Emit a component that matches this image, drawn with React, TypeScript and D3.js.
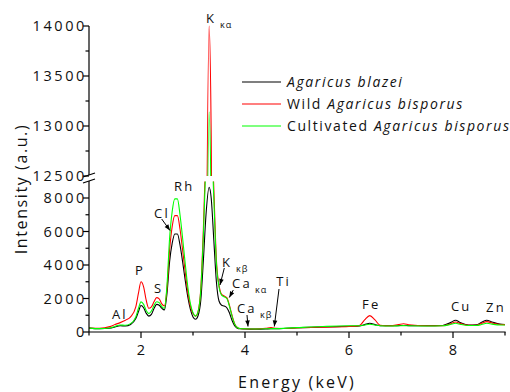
import React from "react";
import * as d3 from "d3";

// Energy grid (keV)
const energy = [
  1.0, 1.2, 1.4, 1.5, 1.6, 1.7, 1.8, 1.9, 1.95, 2.0,
  2.05, 2.1, 2.15, 2.2, 2.25, 2.3, 2.35, 2.4, 2.45, 2.5,
  2.55, 2.6, 2.65, 2.7, 2.75, 2.8, 2.85, 2.9, 2.95, 3.0,
  3.05, 3.1, 3.15, 3.2, 3.25, 3.31, 3.35, 3.4, 3.45, 3.5,
  3.55, 3.6, 3.65, 3.7, 3.75, 3.8, 3.85, 3.9, 4.0, 4.2,
  4.4, 4.5, 4.6, 4.8, 5.0, 5.5, 6.0, 6.2, 6.3, 6.4,
  6.5, 6.6, 6.8, 6.95, 7.05, 7.15, 7.5, 7.8, 7.95, 8.05,
  8.15, 8.3, 8.45, 8.55, 8.65, 8.75, 8.9, 9.0,
];

const blazei = [
  230, 200, 220, 300, 370, 360, 450, 800, 1200, 1580,
  1450, 1120, 950, 1050, 1400, 1650, 1600, 1420, 1320, 2300,
  4200, 5300, 5850, 5850, 5200, 4200, 3100, 2100, 1350, 900,
  760, 1000, 1900, 4300, 7000, 8640, 8000, 5500, 3000, 1850,
  1600, 1550, 1450, 1150, 700, 380, 230, 190, 180, 170,
  180, 190, 190, 220, 250, 300, 340, 360, 440, 520,
  440, 370, 370, 380, 390, 380, 380, 390, 560, 700,
  550, 420, 430, 580, 700, 600, 470, 450,
];

const wild = [
  240, 220, 320, 450, 560, 700, 900, 1500, 2300, 3000,
  2700, 1900, 1420, 1500, 1800, 2050, 1980, 1680, 1560, 2600,
  4900, 6300, 6950, 6950, 6150, 4900, 3600, 2400, 1550, 1100,
  950, 1250, 2600, 6200, 11000, 14000, 12900, 8600, 4300, 2800,
  2250, 2150, 2050, 1600, 1000, 500, 280, 210, 190, 180,
  220, 260, 220, 210, 240, 290, 330, 380, 720, 980,
  720, 400, 370, 440, 490, 430, 370, 370, 480, 600,
  500, 400, 400, 520, 620, 540, 450, 440,
];

const cultivated = [
  230, 200, 240, 330, 420, 400, 500, 900, 1400, 1800,
  1650, 1280, 1100, 1250, 1580, 1810, 1750, 1520, 1420, 2800,
  5600, 7200, 7950, 7950, 7000, 5600, 4100, 2700, 1700, 1150,
  950, 1250, 2500, 5800, 10300, 13140, 12100, 8000, 4100, 2700,
  2200, 2100, 2000, 1550, 950, 480, 270, 210, 190, 180,
  190, 200, 200, 230, 260, 330, 370, 370, 420, 460,
  420, 370, 360, 370, 380, 370, 360, 370, 450, 520,
  450, 390, 390, 450, 520, 470, 420, 420,
];

const seriesNames = ["Agaricus blazei", "Wild Agaricus bisporus", "Cultivated Agaricus bisporus"];
const seriesColors = ["#000000", "#ff0000", "#00ff00"];

const xMajorTicks = [2, 4, 6, 8];
const xMinorTicks = [1, 3, 5, 7, 9];
const yLowMajor = [0, 2000, 4000, 6000, 8000];
const yLowMinor = [1000, 3000, 5000, 7000];
const yHighMajor = [12500, 13000, 13500, 14000];
const yHighMinor = [12750, 13250, 13750];

// peak annotations: element, optional line subscript, energy (keV) of label start, baseline y
type PeakLabel = { text: string; sub?: string; e: number; y: number };
const peakLabels: PeakLabel[] = [
  { text: "K", sub: "κα", e: 3.25, y: 23 },
  { text: "Rh", e: 2.635, y: 191 },
  { text: "Cl", e: 2.25, y: 218 },
  { text: "P", e: 1.885, y: 275 },
  { text: "S", e: 2.25, y: 293 },
  { text: "Al", e: 1.44, y: 319 },
  { text: "K", sub: "κβ", e: 3.56, y: 267 },
  { text: "Ca", sub: "κα", e: 3.75, y: 288 },
  { text: "Ca", sub: "κβ", e: 3.846, y: 313 },
  { text: "Ti", e: 4.6, y: 286 },
  { text: "Fe", e: 6.25, y: 309 },
  { text: "Cu", e: 7.96, y: 311 },
  { text: "Zn", e: 8.635, y: 312 },
];

export default function App() {
  const W = 510, H = 392;
  const x0 = 89, x1 = 505;
  const x = d3.scaleLinear().domain([1, 9]).range([x0, x1]);
  const yLo = d3.scaleLinear().domain([0, 9000]).range([332, 181.25]);
  const yHi = d3.scaleLinear().domain([12500, 14000]).range([176, 26]);
  const font = "'Open Sans', 'Noto Sans', sans-serif";
  const allSeries = [blazei, wild, cultivated];

  const lineLo = d3.line<number>().x((_, i) => x(energy[i])).y((d) => yLo(d)).curve(d3.curveMonotoneX);
  const lineHi = d3.line<number>().x((_, i) => x(energy[i])).y((d) => yHi(d)).curve(d3.curveMonotoneX);

  const arrows: [number, number, number, number][] = [
    [161.7, 219, 170, 230.5],
    [224.3, 268, 220, 285],
    [233.3, 290, 229.3, 297.5],
    [247, 315, 248, 326.5],
    [279, 289, 274.3, 326.5],
  ];

  const arrowHead = (ax: number, ay: number, bx: number, by: number) => {
    const ang = Math.atan2(by - ay, bx - ax);
    const L = 6, Wd = 2.3;
    const p1 = [bx - L * Math.cos(ang) + Wd * Math.sin(ang), by - L * Math.sin(ang) - Wd * Math.cos(ang)];
    const p2 = [bx - L * Math.cos(ang) - Wd * Math.sin(ang), by - L * Math.sin(ang) + Wd * Math.cos(ang)];
    return `M${bx},${by}L${p1[0]},${p1[1]}L${p2[0]},${p2[1]}Z`;
  };

  return (
    <svg width={W} height={H} style={{ position: "absolute", left: 0, top: 0, background: "#fff" }} fontFamily={font}>
      <defs>
        <clipPath id="clipHi"><rect x={x0} y={0} width={W - x0} height={176} /></clipPath>
        <clipPath id="clipLo"><rect x={x0} y={181.5} width={W - x0} height={160} /></clipPath>
      </defs>

      {/* curves */}
      <g clipPath="url(#clipLo)" fill="none">
        {allSeries.map((s, i) => (
          <path key={i} d={lineLo(s) || ""} stroke={seriesColors[i]} strokeWidth={1.1} />
        ))}
      </g>
      <g clipPath="url(#clipHi)" fill="none">
        {allSeries.map((s, i) => (
          <path key={i} d={lineHi(s) || ""} stroke={seriesColors[i]} strokeWidth={1.1} />
        ))}
      </g>

      {/* axes */}
      <g stroke="#000" strokeWidth={1.2}>
        <line x1={x0} x2={x0} y1={26} y2={175} />
        <line x1={x0} x2={x0} y1={181} y2={332} />
        <line x1={x0} x2={x1 + 0.6} y1={332} y2={332} />
        <line x1={83} y1={177} x2={95} y2={173} />
        <line x1={83} y1={183} x2={95} y2={179} />
        {yHighMajor.map((v) => <line key={"hM" + v} x1={x0 - 6} x2={x0} y1={yHi(v)} y2={yHi(v)} />)}
        {yHighMinor.map((v) => <line key={"hm" + v} x1={x0 - 3.5} x2={x0} y1={yHi(v)} y2={yHi(v)} />)}
        {yLowMajor.map((v) => <line key={"lM" + v} x1={x0 - 6} x2={x0} y1={yLo(v)} y2={yLo(v)} />)}
        {yLowMinor.map((v) => <line key={"lm" + v} x1={x0 - 3.5} x2={x0} y1={yLo(v)} y2={yLo(v)} />)}
        {xMajorTicks.map((v) => <line key={"xM" + v} x1={x(v)} x2={x(v)} y1={332} y2={338} />)}
        {xMinorTicks.map((v) => <line key={"xm" + v} x1={x(v)} x2={x(v)} y1={332} y2={335.5} />)}
      </g>

      {/* tick labels */}
      <g fontSize={14.5} fill="#111" letterSpacing={2.6}>
        {yHighMajor.map((v) => (
          <text key={"th" + v} x={87} y={yHi(v)} dy="0.36em" textAnchor="end">{v}</text>
        ))}
        {yLowMajor.map((v) => (
          <text key={"tl" + v} x={87} y={yLo(v)} dy="0.36em" textAnchor="end">{v}</text>
        ))}
        {xMajorTicks.map((v) => (
          <text key={"tx" + v} x={x(v) + 1.3} y={355} textAnchor="middle">{v}</text>
        ))}
      </g>

      {/* axis titles */}
      <text x={297} y={388} textAnchor="middle" fontSize={16} letterSpacing={2.2} fill="#111">Energy (keV)</text>
      <text transform="translate(27,189) rotate(-90)" textAnchor="middle" fontSize={16} letterSpacing={1.6} fill="#111">Intensity (a.u.)</text>

      {/* peak labels */}
      <g fill="#111" fontSize={13} letterSpacing={2.2}>
        {peakLabels.map((p, i) => (
          <text key={i} x={x(p.e)} y={p.y} textAnchor="start">
            {p.text}
          </text>
        ))}
      </g>
      <g fill="#111" fontSize={9} letterSpacing={1}>
        {peakLabels.filter((p) => p.sub).map((p, i) => (
          <text key={i} x={x(p.e) + (p.text.length === 1 ? 14 : 23)} y={p.y + 5}>{p.sub}</text>
        ))}
      </g>

      {/* arrows */}
      <g stroke="#000" strokeWidth={1} fill="#000">
        {arrows.map((a, i) => (
          <g key={i}>
            <line x1={a[0]} y1={a[1]} x2={a[2]} y2={a[3]} />
            <path d={arrowHead(a[0], a[1], a[2], a[3])} stroke="none" />
          </g>
        ))}
      </g>

      {/* legend */}
      <g fontSize={14} letterSpacing={1.6} fill="#111">
        {seriesNames.map((n, i) => {
          const yy = 82 + i * 22;
          const parts = n.split("Agaricus");
          return (
            <g key={n}>
              <line x1={242} x2={281} y1={yy} y2={yy} stroke={seriesColors[i]} strokeWidth={1.1} />
              <text x={287} y={yy + 5}>
                {parts[0] && <tspan>{parts[0]}</tspan>}
                <tspan fontStyle="italic">{"Agaricus" + parts[1]}</tspan>
              </text>
            </g>
          );
        })}
      </g>
    </svg>
  );
}
